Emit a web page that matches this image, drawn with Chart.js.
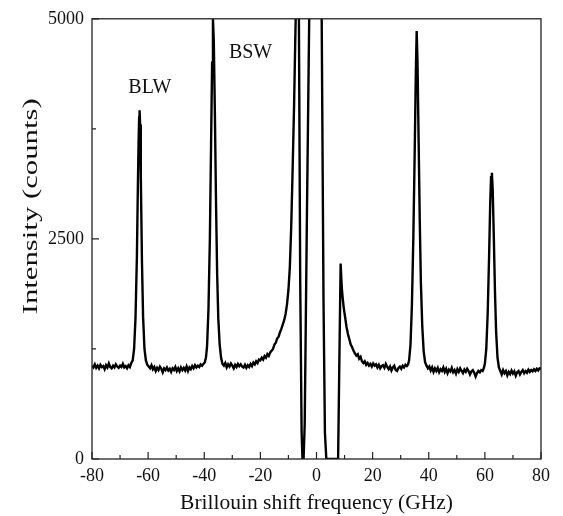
<!DOCTYPE html>
<html>
<head>
<meta charset="utf-8">
<script src="https://cdn.jsdelivr.net/npm/chart.js@4"></script>
<style>
html,body{margin:0;padding:0;background:#fff;}
#wrap{width:563px;height:516px;position:relative;}
</style>
</head>
<body>
<div id="wrap"><canvas id="c"></canvas></div>
<script>
// Brillouin spectrum
const freqGHz = [
-80,-79.5,-79,-78.5,-78,-77.5,-77,-76.5,-76,-75.5,-75,-74.5,-74,-73.5,-73,-72.5,-72,-71.5,-71,-70.5,-70,-69.5,-69,-68.5,-68,-67.5,-67,-66.5,-66,
-65.5,-65,-64.5,-64,-63.7,-63.4,-63.2,-63.05,-62.85,-62.6,-62.2,-61.8,-61.3,-60.8,-60.3,
-59.8,-59.3,-58.8,-58.3,-57.8,-57.3,-56.8,-56.3,-55.8,-55.3,-54.8,-54.3,-53.8,-53.3,-52.8,-52.3,-51.8,-51.3,-50.8,-50.3,-49.8,-49.3,-48.8,-48.3,-47.8,-47.3,-46.8,-46.3,-45.8,-45.3,-44.8,-44.3,-43.8,-43.3,-42.8,-42.3,-41.8,-41.3,-40.8,-40.3,-39.8,
-39.4,-39,-38.5,-38,-37.6,-37.2,-36.9,-36.6,-36.2,-35.8,-35.4,-35,-34.5,-34,-33.5,
-33,-32.5,-32,-31.5,-31,-30.5,-30,-29.5,-29,-28.5,-28,-27.5,-27,-26.5,-26,-25.5,-25,-24.5,-24,-23.5,-23,-22.5,-22,-21.5,-21,-20.5,
-20,-19.5,-19,-18.5,-18,-17.5,-17,-16.5,-16,-15.5,-15,-14.5,-14,-13.5,-13,-12.5,-12,-11.5,-11,-10.5,-10,-9.5,-9,-8.5,-8,-7.6,-7.3,-6.8,-6.3,
-5.8,-5.3,-5.0,-4.6,-4.2,-3.4,-2.6,-2.0,0,1.2,1.85,2.5,3.0,3.5,4,5,6,7,7.7,8.1,8.6,
9.0,9.3,9.7,10.2,10.7,11.2,11.7,12.2,12.7,13.2,13.7,14.2,14.7,15.2,15.7,16.2,16.7,17.2,17.7,18.2,18.7,19.2,19.7,20.2,20.7,21.2,21.7,22.2,22.7,23.2,23.7,24.2,24.7,25.2,25.7,26.2,26.7,27.2,27.7,28.2,28.7,29.2,29.7,30.2,30.7,31.2,31.7,32.2,32.6,
33,33.5,34,34.5,35,35.4,35.7,36,36.4,36.8,37.2,37.7,38.2,38.7,39.2,
39.7,40.2,40.7,41.2,41.7,42.2,42.7,43.2,43.7,44.2,44.7,45.2,45.7,46.2,46.7,47.2,47.7,48.2,48.7,49.2,49.7,50.2,50.7,51.2,51.7,52.2,52.7,53.2,53.7,54.2,54.7,55.2,55.7,56.2,56.7,57.2,57.7,58.2,58.7,59.2,59.6,
60,60.5,61,61.5,61.9,62.2,62.5,62.8,63.2,63.6,64,64.5,65,
65.5,66,66.5,67,67.5,68,68.5,69,69.5,70,70.5,71,71.5,72,72.5,73,73.5,74,74.5,75,75.5,76,76.5,77,77.5,78,78.5,79,79.5,80
];
const intensityCounts = [
1060,1040,1075,1035,1060,1030,1070,1045,1055,1020,1065,1040,1085,1045,1030,1060,1040,1075,1050,1035,1060,1045,1080,1040,1055,1030,1065,1045,1090,
1120,1250,1600,2300,3000,3600,3880,3960,3800,3200,2250,1620,1250,1120,1070,
1050,1030,1065,1020,1045,1000,1035,1010,1050,1025,985,1030,1010,1040,1005,1025,990,1030,1010,1045,1000,1030,995,1040,1010,1035,1005,1050,1000,1040,1020,1055,1030,1065,1040,1060,1045,1075,1060,1080,1100,
1150,1280,1700,2500,3500,4500,5000,4750,3900,2900,2100,1600,1300,1150,1080,
1060,1090,1040,1075,1050,1085,1060,1030,1070,1045,1080,1055,1075,1050,1040,1070,1035,1065,1045,1080,1055,1095,1075,1110,1090,1130,
1120,1150,1130,1170,1150,1190,1170,1210,1230,1250,1300,1320,1370,1390,1440,1480,1530,1580,1650,1760,1920,2180,2650,3300,4000,4700,5200,8000,5200,
2000,300,0,0,400,2800,5000,9000,12000,9000,5000,1800,300,0,0,0,0,0,0,1000,2220,
1950,1840,1720,1610,1500,1420,1360,1300,1270,1230,1200,1175,1190,1140,1160,1110,1090,1110,1070,1090,1060,1080,1050,1085,1060,1075,1040,1070,1030,1055,1065,1035,1080,1045,1020,1050,1005,1040,1060,1010,1000,1035,1050,1025,1060,1040,1070,1055,1070,
1120,1300,1750,2500,3500,4400,4860,4500,3600,2700,2000,1500,1220,1100,1060,
1030,1050,1005,1040,990,1030,1000,1035,985,1020,1000,1040,990,1025,975,1015,995,1035,985,1010,970,1020,990,1030,1000,975,1015,990,1025,1000,960,995,1010,980,935,975,1000,985,1010,1000,1030,
1080,1250,1650,2300,2900,3200,3250,3050,2500,1900,1450,1150,1040,
1000,960,1010,975,1000,950,990,965,1005,970,995,945,985,1000,960,990,1010,975,1000,980,1015,990,1010,995,1020,1000,1025,1005,1030,1020
];
const xTickValues = [-80,-60,-40,-20,0,20,40,60,80];
const yTickValues = [0,2500,5000];
const peakLabels = ['BLW','BSW'];
const peakLabelFreq = [-59.4,-23.5];
const peakLabelCounts = [4215,4620];
const xTitle = 'Brillouin shift frequency (GHz)';
const yTitle = 'Intensity (counts)';

const points = freqGHz.map((f,i)=>({x:f,y:intensityCounts[i]}));
const SERIF = '"Liberation Serif","DejaVu Serif",serif';

const framePlugin = {
  id:'frame',
  afterDraw(chart){
    const {ctx, chartArea:a, scales} = chart;
    const xs = scales.x, ys = scales.y;
    ctx.save();
    ctx.strokeStyle = '#222';
    ctx.lineWidth = 1.3;
    ctx.strokeRect(a.left, a.top, a.right-a.left, a.bottom-a.top);
    ctx.lineWidth = 1.2;
    ctx.beginPath();
    xs.ticks.forEach(t=>{
      const px = xs.getPixelForValue(t.value);
      const len = xTickValues.includes(t.value) ? 7 : 4;
      ctx.moveTo(px, a.bottom);
      ctx.lineTo(px, a.bottom - len);
    });
    ys.ticks.forEach(t=>{
      const py = ys.getPixelForValue(t.value);
      const len = yTickValues.includes(t.value) ? 7 : 4;
      ctx.moveTo(a.left, py);
      ctx.lineTo(a.left + len, py);
    });
    ctx.stroke();
    // peak annotations
    ctx.fillStyle = '#111';
    ctx.font = '20px ' + SERIF;
    ctx.textAlign = 'center';
    ctx.textBaseline = 'middle';
    peakLabels.forEach((s,i)=>{
      ctx.fillText(s, xs.getPixelForValue(peakLabelFreq[i]), ys.getPixelForValue(peakLabelCounts[i]));
    });
    // y axis title (the original is stretched along its length)
    ctx.save();
    ctx.translate(a.left - 61, a.top + (a.bottom - a.top) * 0.426);
    ctx.rotate(-Math.PI/2);
    ctx.font = '22px ' + SERIF;
    const w = ctx.measureText(yTitle).width;
    ctx.scale(216 / w, 1);
    ctx.fillText(yTitle, 0, 0);
    ctx.restore();
    ctx.restore();
  }
};

new Chart(document.getElementById('c'), {
  type:'line',
  data:{ datasets:[{
    data:points,
    borderColor:'#000',
    borderWidth:2.4,
    pointRadius:0,
    tension:0,
    fill:false,
    clip:0
  }]},
  options:{
    responsive:true,
    maintainAspectRatio:false,
    animation:false,
    events:[],
    layout:{padding:{left:0,right:22,top:18,bottom:0}},
    plugins:{legend:{display:false},tooltip:{enabled:false}},
    scales:{
      x:{
        type:'linear', min:-80, max:80,
        grid:{display:false, drawTicks:false},
        border:{display:false},
        ticks:{stepSize:10, color:'#111', padding:6, maxRotation:0, autoSkip:false,
          font:{family:SERIF,size:18},
          callback:(v)=> xTickValues.includes(v) ? String(v) : ''},
        title:{display:true, text:xTitle, color:'#111', padding:{top:0,bottom:0},
          font:{family:SERIF,size:21.5}},
        afterFit:(s)=>{ s.height = 57; }
      },
      y:{
        type:'linear', min:0, max:5000,
        grid:{display:false, drawTicks:false},
        border:{display:false},
        ticks:{stepSize:1250, color:'#111', padding:8, autoSkip:false,
          font:{family:SERIF,size:18},
          callback:(v)=> yTickValues.includes(v) ? String(v) : ''},
        afterFit:(s)=>{ s.width = 92; }
      }
    }
  },
  plugins:[framePlugin]
});
</script>
</body>
</html>
